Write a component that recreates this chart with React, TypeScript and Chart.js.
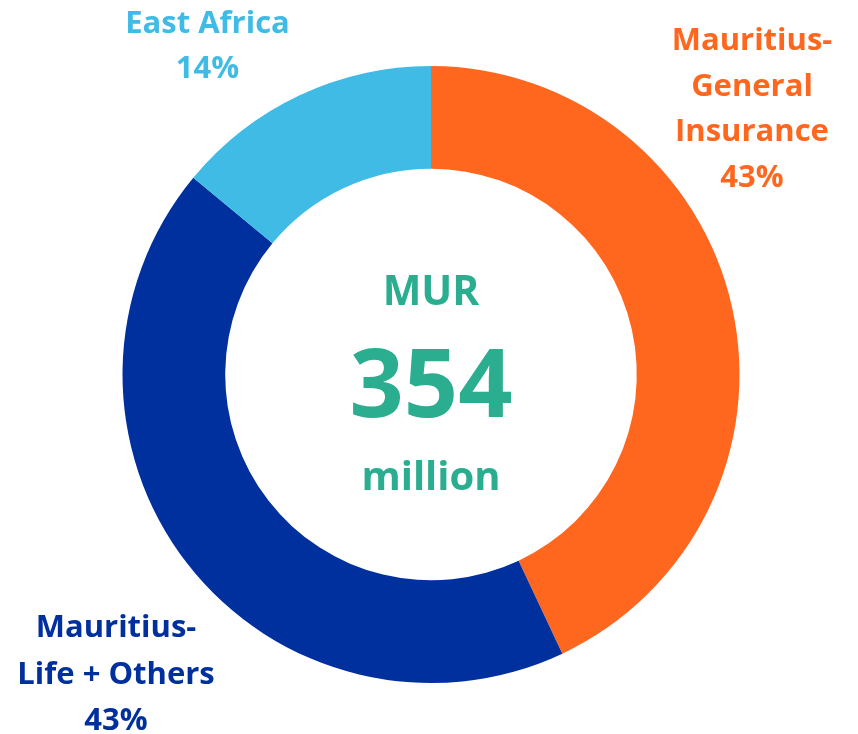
import React, { useEffect, useRef } from "react";
import { Chart, registerables } from "chart.js";

Chart.register(...registerables);

const categories = ["Mauritius-General Insurance", "Mauritius-Life + Others", "East Africa"];
const shares = [43, 43, 14];
const colors = ["#FF671F", "#00309E", "#3FBBE6"];
const labelLines = [
  ["Mauritius-", "General", "Insurance", "43%"],
  ["Mauritius-", "Life + Others", "43%"],
  ["East Africa", "14%"],
];
const centerLines = ["MUR", "354", "million"];
const centerColor = "#2AAE8F";

const FONT = "'Open Sans', sans-serif";

const labelPlugin = {
  id: "labels",
  afterDraw(chart: any) {
    const ctx = chart.ctx;
    const arc = chart.getDatasetMeta(0).data[0];
    if (!arc) return;
    const cx = arc.x;
    const cy = arc.y;
    ctx.save();
    ctx.textAlign = "center";
    ctx.textBaseline = "alphabetic";
    // outer labels: [dx, first baseline dy, line step]
    const place = [
      [321, -324.5, 45.7],
      [-315, 262.5, 46.5],
      [-223.5, -341.5, 45],
    ];
    labelLines.forEach((lines, i) => {
      ctx.fillStyle = colors[i];
      ctx.font = `bold 31px ${FONT}`;
      const [dx, dy, step] = place[i];
      lines.forEach((t, j) => ctx.fillText(t, cx + dx, cy + dy + j * step));
    });
    ctx.fillStyle = centerColor;
    ctx.font = `bold 41px ${FONT}`;
    ctx.fillText(centerLines[0], cx, cy - 69.5);
    ctx.font = `bold 95px ${FONT}`;
    ctx.fillText(centerLines[1], cx, cy + 42.5);
    ctx.font = `bold 40px ${FONT}`;
    ctx.fillText(centerLines[2], cx, cy + 115.5);
    ctx.restore();
  },
};

export default function App() {
  const ref = useRef<HTMLCanvasElement>(null);
  useEffect(() => {
    if (!ref.current) return;
    const chart = new Chart(ref.current, {
      type: "doughnut",
      data: {
        labels: categories,
        datasets: [
          {
            data: shares,
            backgroundColor: colors,
            borderWidth: 0,
            hoverOffset: 0,
          },
        ],
      },
      options: {
        responsive: false,
        animation: false,
        cutout: "66.7%",
        layout: { padding: { left: 114.5, right: 110.5, top: 58, bottom: 51 } },
        plugins: { legend: { display: false }, tooltip: { enabled: false } },
      },
      plugins: [labelPlugin],
    });
    return () => chart.destroy();
  }, []);
  return (
    <div style={{ width: 842, height: 726 }}>
      <canvas ref={ref} width={842} height={726} style={{ display: "block" }} />
    </div>
  );
}
